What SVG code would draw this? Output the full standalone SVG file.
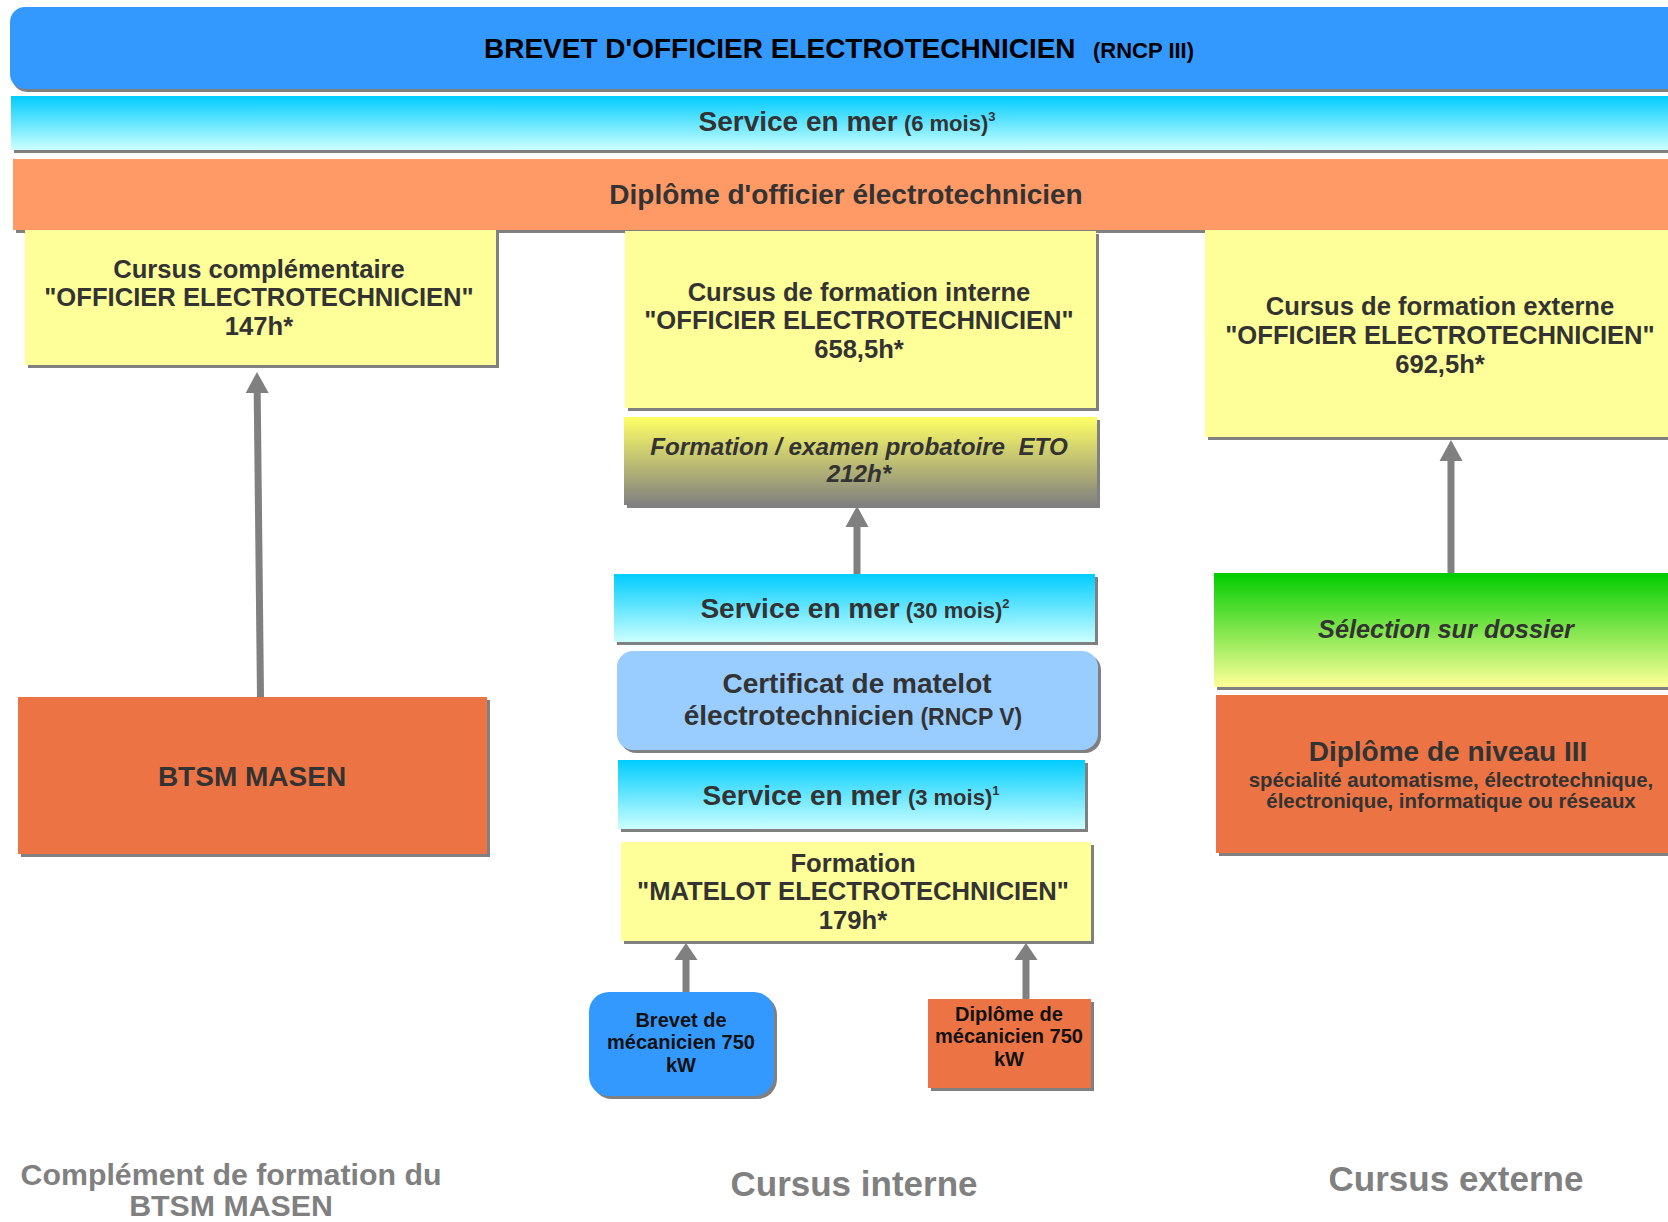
<svg xmlns="http://www.w3.org/2000/svg" width="1668" height="1222" viewBox="0 0 1668 1222">
<style>
text{font-family:"Liberation Sans",Arial,sans-serif;font-weight:bold;fill:#333}
.c{text-anchor:middle}
.k{fill:#000}
.dk{fill:#111}
.it{font-style:italic}
.sh{fill:#808080}
.y{fill:#ffff99}
.or{fill:#ec7444}
.lbl{fill:#808080}
.conn line{stroke:#808080;stroke-width:7}
</style>
<defs>
<linearGradient id="cy" x1="0" y1="0" x2="0" y2="1"><stop offset="0" stop-color="#00ccff"/><stop offset="1" stop-color="#ccffff"/></linearGradient>
<linearGradient id="eto" x1="0" y1="0" x2="0" y2="1"><stop offset="0" stop-color="#ffff66"/><stop offset="1" stop-color="#808080"/></linearGradient>
<linearGradient id="gr" x1="0" y1="0" x2="0" y2="1"><stop offset="0" stop-color="#00cc00"/><stop offset="1" stop-color="#ffff99"/></linearGradient>
<marker id="ah" markerUnits="userSpaceOnUse" markerWidth="24" markerHeight="24" viewBox="0 -12 22 24" refX="0" refY="0" orient="auto"><path d="M0,-11.5 L21,0 L0,11.5 z" fill="#808080"/></marker>
<marker id="ahs" markerUnits="userSpaceOnUse" markerWidth="24" markerHeight="24" viewBox="0 -12 22 24" refX="0" refY="0" orient="auto"><path d="M0,-11.5 L17,0 L0,11.5 z" fill="#808080"/></marker>
</defs>

<g id="brevet-officier">
<rect class="sh" x="12" y="10" width="1700" height="82" rx="15"/>
<rect x="10" y="7" width="1700" height="82" rx="15" fill="#3399ff"/>
<text class="k" y="58"><tspan x="484" font-size="28">BREVET D'OFFICIER ELECTROTECHNICIEN</tspan><tspan x="1093" font-size="22">(RNCP III)</tspan></text>
</g>

<g id="service-6mois">
<rect class="sh" x="14" y="99" width="1700" height="54"/>
<rect x="11" y="96" width="1700" height="54" fill="url(#cy)"/>
<text class="c" x="847" y="131"><tspan font-size="28">Service en mer</tspan><tspan font-size="22"> (6 mois)</tspan><tspan font-size="13" dy="-10">3</tspan></text>
</g>

<g id="diplome-officier">
<rect class="sh" x="16" y="162" width="1700" height="71"/>
<rect x="13" y="159" width="1700" height="71" fill="#ff9966"/>
<text class="c" x="846" y="204" font-size="28">Diplôme d'officier électrotechnicien</text>
</g>

<g id="cursus-complementaire">
<rect class="sh" x="28" y="233" width="471" height="135"/>
<rect class="y" x="25" y="230" width="471" height="135"/>
<text class="c" font-size="25.6"><tspan x="259" y="278">Cursus complémentaire</tspan><tspan x="259" y="306">"OFFICIER ELECTROTECHNICIEN"</tspan><tspan x="259" y="335">147h*</tspan></text>
</g>

<g id="cursus-interne">
<rect class="sh" x="628" y="234" width="471" height="177"/>
<rect class="y" x="625" y="231" width="471" height="177"/>
<text class="c" font-size="25.6"><tspan x="859" y="301">Cursus de formation interne</tspan><tspan x="859" y="329">"OFFICIER ELECTROTECHNICIEN"</tspan><tspan x="859" y="358">658,5h*</tspan></text>
</g>

<g id="eto">
<rect class="sh" x="627" y="420" width="473" height="88"/>
<rect x="624" y="417" width="473" height="88" fill="url(#eto)"/>
<text class="c it" font-size="24.2"><tspan x="859" y="455" xml:space="preserve">Formation / examen probatoire  ETO</tspan><tspan x="859" y="482">212h*</tspan></text>
</g>

<g id="service-30mois">
<rect class="sh" x="617" y="577" width="481" height="68"/>
<rect x="614" y="574" width="481" height="68" fill="url(#cy)"/>
<text class="c" x="855" y="618"><tspan font-size="28">Service en mer</tspan><tspan font-size="22"> (30 mois)</tspan><tspan font-size="13" dy="-10">2</tspan></text>
</g>

<g id="certificat-matelot">
<rect class="sh" x="620" y="654" width="481" height="99" rx="16"/>
<rect x="617" y="651" width="481" height="99" rx="16" fill="#99ccff"/>
<text class="c" x="857" y="693" font-size="28">Certificat de matelot</text>
<text class="c" x="853" y="725"><tspan font-size="28">électrotechnicien</tspan><tspan font-size="23"> (RNCP V)</tspan></text>
</g>

<g id="service-3mois">
<rect class="sh" x="621" y="763" width="467" height="69"/>
<rect x="618" y="760" width="467" height="69" fill="url(#cy)"/>
<text class="c" x="851" y="805"><tspan font-size="28">Service en mer</tspan><tspan font-size="22"> (3 mois)</tspan><tspan font-size="13" dy="-10">1</tspan></text>
</g>

<g id="formation-matelot">
<rect class="sh" x="624" y="845" width="470" height="99"/>
<rect class="y" x="621" y="842" width="470" height="99"/>
<text class="c" font-size="25.6"><tspan x="853" y="872">Formation</tspan><tspan x="853" y="900">"MATELOT ELECTROTECHNICIEN"</tspan><tspan x="853" y="929">179h*</tspan></text>
</g>

<g id="brevet-mecanicien">
<rect class="sh" x="592" y="995" width="185" height="104" rx="20"/>
<rect x="589" y="992" width="185" height="104" rx="20" fill="#3399ff"/>
<text class="c dk" font-size="20"><tspan x="681" y="1027">Brevet de</tspan><tspan x="681" y="1049">mécanicien 750</tspan><tspan x="681" y="1072">kW</tspan></text>
</g>

<g id="diplome-mecanicien">
<rect class="sh" x="931" y="1002" width="163" height="89"/>
<rect class="or" x="928" y="999" width="163" height="89"/>
<text class="c dk" font-size="20"><tspan x="1009" y="1021">Diplôme de</tspan><tspan x="1009" y="1043">mécanicien 750</tspan><tspan x="1009" y="1066">kW</tspan></text>
</g>

<g id="btsm-masen">
<rect class="sh" x="21" y="700" width="469" height="157"/>
<rect class="or" x="18" y="697" width="469" height="157"/>
<text class="c" x="252" y="786" font-size="28">BTSM MASEN</text>
</g>

<g id="cursus-externe">
<rect class="sh" x="1208" y="233" width="470" height="207"/>
<rect class="y" x="1205" y="230" width="470" height="207"/>
<text class="c" font-size="25.6"><tspan x="1440" y="315">Cursus de formation externe</tspan><tspan x="1440" y="344">"OFFICIER ELECTROTECHNICIEN"</tspan><tspan x="1440" y="373">692,5h*</tspan></text>
</g>

<g id="selection-dossier">
<rect class="sh" x="1217" y="576" width="460" height="114"/>
<rect x="1214" y="573" width="460" height="114" fill="url(#gr)"/>
<text class="c it" x="1446" y="638" font-size="25.3">Sélection sur dossier</text>
</g>

<g id="diplome-niveau3">
<rect class="sh" x="1219" y="698" width="460" height="158"/>
<rect class="or" x="1216" y="695" width="460" height="158"/>
<text class="c" x="1448" y="761" font-size="28">Diplôme de niveau III</text>
<text class="c" font-size="20.4"><tspan x="1451" y="787">spécialité automatisme, électrotechnique,</tspan><tspan x="1451" y="808">électronique, informatique ou réseaux</tspan></text>
</g>

<g id="connectors" class="conn">
<line x1="260.5" y1="697" x2="257.2" y2="393" marker-end="url(#ah)"/>
<line x1="857" y1="574" x2="857" y2="527" marker-end="url(#ah)"/>
<line x1="1451" y1="573" x2="1451" y2="461" marker-end="url(#ah)"/>
<line x1="686" y1="992" x2="686" y2="960" marker-end="url(#ahs)"/>
<line x1="1026" y1="999" x2="1026" y2="960" marker-end="url(#ahs)"/>
</g>

<g id="labels">
<text class="c lbl" font-size="30.3"><tspan x="231" y="1185">Complément de formation du</tspan><tspan x="231" y="1216">BTSM MASEN</tspan></text>
<text class="c lbl" x="854" y="1196" font-size="35">Cursus interne</text>
<text class="c lbl" x="1456" y="1191" font-size="35">Cursus externe</text>
</g>
</svg>
